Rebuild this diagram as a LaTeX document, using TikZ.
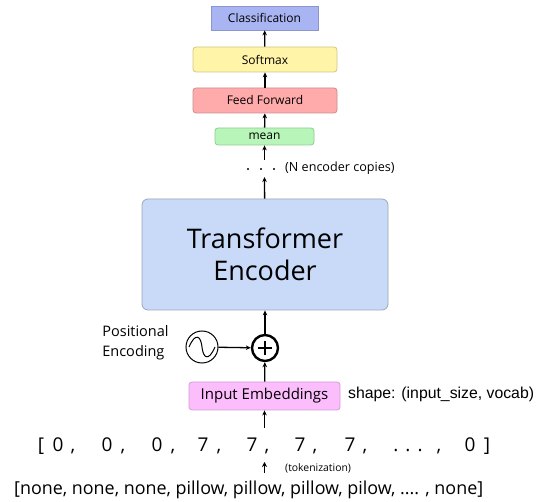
\documentclass[tikz,border=0pt]{standalone}
\usepackage{fontspec}
\setmainfont{Open Sans}
\newfontfamily\arialfont{Liberation Sans}
\usetikzlibrary{arrows.meta}

\definecolor{clsfill}{HTML}{A9B5F3}
\definecolor{clsdraw}{HTML}{8C96CC}
\definecolor{smfill}{HTML}{FFF4A8}
\definecolor{smdraw}{HTML}{D2C684}
\definecolor{fffill}{HTML}{FFABAB}
\definecolor{ffdraw}{HTML}{CC8C8C}
\definecolor{mnfill}{HTML}{B8F5B9}
\definecolor{mndraw}{HTML}{8FCC91}
\definecolor{encfill}{HTML}{C9DAF8}
\definecolor{encdraw}{HTML}{9CA6B6}
\definecolor{embfill}{HTML}{FBBDFB}
\definecolor{embdraw}{HTML}{D59CD5}

\tikzset{
  layerbox/.style={draw, line width=0.8pt, rounded corners=3pt, inner sep=0pt,
    font=\fontsize{12}{14}\selectfont},
  flow/.style={line width=1.3pt, -{Stealth[length=5pt,width=4.5pt]}},
  tok/.style={inner sep=0pt, text height=14pt, text depth=4pt,
    font=\fontsize{19}{22}\selectfont},
  dotmark/.style={circle, fill=black, inner sep=0pt, minimum size=2.4pt},
}

\begin{document}
\begin{tikzpicture}[x=1pt,y=-1pt]
\useasboundingbox (0,0) rectangle (544,502);

% classification head
\node[layerbox, rounded corners=0pt, fill=clsfill, draw=clsdraw, minimum width=107pt, minimum height=24pt] (cls) at (264.5,18) {Classification};
\node[layerbox, fill=smfill, draw=smdraw, minimum width=144pt, minimum height=25pt] (soft) at (265,59.5) {Softmax};
\node[layerbox, fill=fffill, draw=ffdraw, minimum width=144pt, minimum height=25pt] (ff) at (265,100.5) {Feed Forward};
\node[layerbox, fill=mnfill, draw=mndraw, minimum width=99pt, minimum height=17pt] (mean) at (264.5,136.5) {mean};

\draw[flow] (soft) -- (cls);
\draw[flow] (ff) -- (soft);
\draw[flow] (mean) -- (ff);

% stacked encoder copies
\node[dotmark] (d1) at (248,169) {};
\node[dotmark] (d2) at (261,169) {};
\node[dotmark] (d3) at (274,169) {};
\node[anchor=west, inner sep=0pt, font=\fontsize{12.6}{14}\selectfont] (ncopies) at (285,168) {(N encoder copies)};
\coordinate (dotstop) at (264.5,160);
\coordinate (dotsbot) at (264.5,177);
\draw[flow] (dotstop) -- (mean);

% encoder
\node[draw=encdraw, fill=encfill, line width=0.8pt, rounded corners=6pt,
  minimum width=246pt, minimum height=111pt, align=center,
  font=\fontsize{27}{32}\selectfont] (enc) at (265,254.5) {Transformer\\Encoder};
\draw[flow] (enc) -- (dotsbot);

% positional encoding
\node[circle, draw, line width=2.4pt, minimum size=26pt, inner sep=0pt] (plus) at (265,348) {};
\draw[line width=1.6pt] ([xshift=-7pt]plus.center) -- ([xshift=7pt]plus.center)
  ([yshift=-7pt]plus.center) -- ([yshift=7pt]plus.center);
\node[circle, draw, line width=1pt, minimum size=32pt, inner sep=0pt] (pe) at (202,347) {};
\draw[line width=1pt] ([xshift=-13pt]pe.center) .. controls ([xshift=-6pt,yshift=16pt]pe.center) and ([xshift=-1pt,yshift=10pt]pe.center) .. (pe.center)
  .. controls ([xshift=1pt,yshift=-10pt]pe.center) and ([xshift=6pt,yshift=-16pt]pe.center) .. ([xshift=13pt]pe.center);
\node[align=left, inner sep=0pt, font=\fontsize{14.5}{20}\selectfont] (pelabel) at (135.5,343) {Positional\\Encoding};
\draw[flow] (pe) -- (plus);
\draw[flow] (plus) -- (enc);

% embeddings
\node[layerbox, fill=embfill, draw=embdraw, minimum width=151pt, minimum height=28pt,
  font=\fontsize{15}{17}\selectfont] (emb) at (264.5,396) {Input Embeddings};
\node[anchor=west, inner sep=0pt, font=\arialfont\fontsize{15.8}{18}\selectfont] (shape) at (348,394) {shape: (input\_size, vocab)};
\draw[flow] (emb) -- (plus);

% token ids
\node[tok] (lb) at (41,447) {[};
\node[tok] (v1) at (58,447) {0};   \node[tok] (c1) at (73,447) {,};
\node[tok] (v2) at (107,447) {0};  \node[tok] (c2) at (123,447) {,};
\node[tok] (v3) at (157,447) {0};  \node[tok] (c3) at (173,447) {,};
\node[tok] (v4) at (203,447) {7};  \node[tok] (c4) at (219,447) {,};
\node[tok] (v5) at (252,447) {7};  \node[tok] (c5) at (267,447) {,};
\node[tok] (v6) at (300,447) {7};  \node[tok] (c6) at (315,447) {,};
\node[tok] (v7) at (350,447) {7};  \node[tok] (c7) at (365,447) {,};
\node[tok] (ell) at (408,447) {.\hspace{7pt}.\hspace{7pt}.};  \node[tok] (c8) at (439,447) {,};
\node[tok] (v8) at (470,447) {0};
\node[tok] (rb) at (487,447) {]};
\coordinate (idstop) at (264.5,428);
\draw[flow] (idstop) -- (emb);

% tokenization
\coordinate (tokbot) at (264.5,473);
\coordinate (toktop) at (264.5,462);
\draw[line width=1.3pt, -{Stealth[length=5pt,width=5pt]}] (tokbot) -- (toktop);
\node[anchor=west, inner sep=0pt, font=\fontsize{10.4}{12}\selectfont] (toklabel) at (285,468) {(tokenization)};

\node[anchor=west, inner sep=0pt, font=\fontsize{17.9}{20}\selectfont] (words) at (14,490) {[none, none, none, pillow, pillow, pillow, pilow, .... , none]};
\end{tikzpicture}
\end{document}
